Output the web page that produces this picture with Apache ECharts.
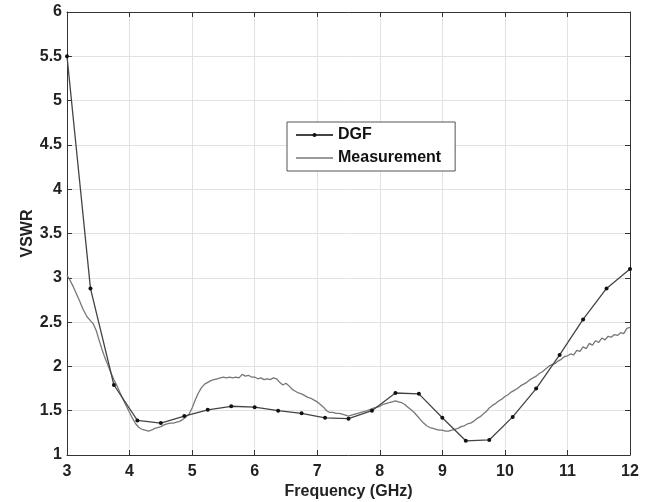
<!DOCTYPE html>
<html>
<head>
<meta charset="utf-8">
<title>VSWR</title>
<script src="https://cdn.jsdelivr.net/npm/echarts@6/dist/echarts.min.js"></script>
<style>
  html, body { margin: 0; padding: 0; background: #fff; }
  #main { width: 658px; height: 502px; }
</style>
</head>
<body>
<div id="main"></div>
<script>
// 数据
const dgfFreq = [3, 3.375, 3.75, 4.125, 4.5, 4.875, 5.25, 5.625, 6, 6.375, 6.75, 7.125, 7.5,
  7.875, 8.25, 8.625, 9, 9.375, 9.75, 10.125, 10.5, 10.875, 11.25, 11.625, 12];
const dgfVswr = [5.5, 2.88, 1.79, 1.39, 1.36, 1.44, 1.51, 1.55, 1.54, 1.5, 1.47, 1.42, 1.41,
  1.5, 1.7, 1.69, 1.42, 1.16, 1.17, 1.43, 1.75, 2.13, 2.53, 2.88, 3.1];

const measFreq = [3, 3.05, 3.1, 3.15, 3.2, 3.26, 3.32, 3.37, 3.42, 3.47, 3.52, 3.56, 3.6, 3.65,
  3.7, 3.75, 3.8, 3.85, 3.9, 3.95, 4, 4.05, 4.1, 4.15, 4.2, 4.25, 4.3, 4.35, 4.4, 4.45, 4.5,
  4.55, 4.6, 4.65, 4.7, 4.75, 4.8, 4.85, 4.9, 4.95, 5, 5.05, 5.1, 5.15, 5.2, 5.25, 5.3, 5.35,
  5.4, 5.45, 5.5, 5.55, 5.6, 5.65, 5.7, 5.75, 5.8, 5.85, 5.9, 5.95, 6, 6.05, 6.1, 6.15, 6.2,
  6.25, 6.3, 6.35, 6.4, 6.45, 6.5, 6.55, 6.6, 6.65, 6.7, 6.75, 6.8, 6.85, 6.9, 6.95, 7, 7.05,
  7.1, 7.15, 7.2, 7.25, 7.3, 7.35, 7.4, 7.45, 7.5, 7.55, 7.6, 7.65, 7.7, 7.8, 7.9, 8, 8.05,
  8.1, 8.15, 8.2, 8.25, 8.3, 8.35, 8.4, 8.45, 8.5, 8.55, 8.6, 8.65, 8.7, 8.75, 8.8, 8.85, 8.9,
  8.95, 9, 9.05, 9.1, 9.15, 9.2, 9.25, 9.3, 9.35, 9.4, 9.45, 9.5, 9.55, 9.6, 9.65, 9.7, 9.75,
  9.8, 9.85, 9.9, 9.95, 10, 10.05, 10.1, 10.15, 10.2, 10.25, 10.3, 10.35, 10.4, 10.45, 10.5,
  10.55, 10.6, 10.65, 10.7, 10.75, 10.8, 10.85, 10.9, 10.95, 11, 11.05, 11.1, 11.15, 11.2,
  11.25, 11.3, 11.35, 11.4, 11.45, 11.5, 11.55, 11.6, 11.65, 11.7, 11.75, 11.8, 11.85, 11.9,
  11.95, 12];
const measVswr = [3.03, 2.97, 2.9, 2.82, 2.74, 2.64, 2.56, 2.52, 2.48, 2.4, 2.28, 2.19, 2.11, 2.02,
  1.93, 1.85, 1.78, 1.7, 1.62, 1.55, 1.48, 1.41, 1.35, 1.31, 1.29, 1.28, 1.27, 1.28, 1.3, 1.31, 1.32,
  1.34, 1.35, 1.36, 1.36, 1.37, 1.38, 1.4, 1.43, 1.46, 1.53, 1.62, 1.7, 1.76, 1.8, 1.82, 1.84, 1.85,
  1.86, 1.87, 1.88, 1.87, 1.88, 1.87, 1.88, 1.87, 1.91, 1.89, 1.9, 1.88, 1.88, 1.86, 1.87, 1.85, 1.86,
  1.85, 1.87, 1.86, 1.82, 1.79, 1.81, 1.78, 1.74, 1.72, 1.7, 1.69, 1.67, 1.65, 1.64, 1.62, 1.6, 1.57,
  1.54, 1.5, 1.48, 1.48, 1.47, 1.47, 1.46, 1.45, 1.44, 1.45, 1.46, 1.47, 1.48, 1.5, 1.53, 1.55, 1.57,
  1.58, 1.59, 1.6, 1.61, 1.6, 1.59, 1.57, 1.54, 1.51, 1.48, 1.44, 1.4, 1.36, 1.33, 1.31, 1.3, 1.29,
  1.28, 1.28, 1.27, 1.27, 1.28, 1.29, 1.3, 1.32, 1.33, 1.35, 1.36, 1.38, 1.41, 1.43, 1.46, 1.49, 1.53,
  1.56, 1.58, 1.61, 1.63, 1.66, 1.68, 1.71, 1.73, 1.75, 1.78, 1.8, 1.82, 1.85, 1.87, 1.89,
  1.92, 1.94, 1.97, 2.0, 2.02, 2.03, 2.06, 2.08, 2.11, 2.12, 2.14, 2.13, 2.18, 2.17,
  2.22, 2.2, 2.26, 2.24, 2.29, 2.27, 2.32, 2.3, 2.34, 2.33, 2.36, 2.35, 2.38, 2.37,
  2.43, 2.44];

const FONT = "'Liberation Sans', Arial, sans-serif";

const chart = echarts.init(document.getElementById('main'));

// 公共坐标轴样式
const axisLine = { show: true, lineStyle: { color: '#333', width: 1 } };
const axisTick = { show: true, inside: true, length: 5, lineStyle: { color: '#333' } };
const splitLine = { show: true, lineStyle: { color: '#e2e2e2', width: 1 } };
const axisLabel = { color: '#222', fontFamily: FONT, fontWeight: 'bold', fontSize: 16 };

const option = {
  backgroundColor: '#fff',
  animation: false,
  // 固定绘图区，不让外边界自动收缩
  grid: { left: 67, right: 28, top: 12, bottom: 47, outerBoundsMode: 'none', containLabel: false },
  legend: {
    left: 287,
    top: 122,
    orient: 'vertical',
    backgroundColor: '#fff',
    borderColor: '#555',
    borderWidth: 1,
    borderRadius: 0,
    padding: [5, 14, 5, 8],
    itemWidth: 37,
    itemHeight: 5,
    itemGap: 7,
    textStyle: { color: '#111', fontFamily: FONT, fontWeight: 'bold', fontSize: 16, lineHeight: 16 },
    data: [
      'DGF',
      // 测量曲线只画线，不带点
      { name: 'Measurement', icon: 'path://M0,0L37,0L37,1.3L0,1.3Z' }
    ]
  },
  xAxis: [
    {
      type: 'value', min: 3, max: 12, interval: 1,
      name: 'Frequency (GHz)', nameLocation: 'middle', nameGap: 29, nameMoveOverlap: false,
      nameTextStyle: { color: '#222', fontFamily: FONT, fontWeight: 'bold', fontSize: 16 },
      axisLine, axisTick, splitLine,
      axisLabel: Object.assign({ margin: 9 }, axisLabel)
    },
    {
      type: 'value', min: 3, max: 12, interval: 1, position: 'top',
      axisLine, axisTick, splitLine: { show: false }, axisLabel: { show: false }
    }
  ],
  yAxis: [
    {
      type: 'value', min: 1, max: 6, interval: 0.5,
      name: 'VSWR', nameLocation: 'middle', nameGap: 31, nameMoveOverlap: false,
      nameTextStyle: { color: '#222', fontFamily: FONT, fontWeight: 'bold', fontSize: 16 },
      axisLine, axisTick, splitLine,
      axisLabel: Object.assign({ margin: 5 }, axisLabel)
    },
    {
      type: 'value', min: 1, max: 6, interval: 0.5, position: 'right',
      axisLine, axisTick, splitLine: { show: false }, axisLabel: { show: false }
    }
  ],
  series: [
    {
      name: 'DGF',
      type: 'line',
      data: dgfFreq.map((f, i) => [f, dgfVswr[i]]),
      symbol: 'circle',
      symbolSize: 4,
      itemStyle: { color: '#111' },
      lineStyle: { color: '#444', width: 1.3 },
      z: 3
    },
    {
      name: 'Measurement',
      type: 'line',
      data: measFreq.map((f, i) => [f, measVswr[i]]),
      showSymbol: false,
      symbol: 'none',
      itemStyle: { color: '#777' },
      lineStyle: { color: '#777', width: 1.3 },
      z: 2
    }
  ]
};

chart.setOption(option);
</script>
</body>
</html>
